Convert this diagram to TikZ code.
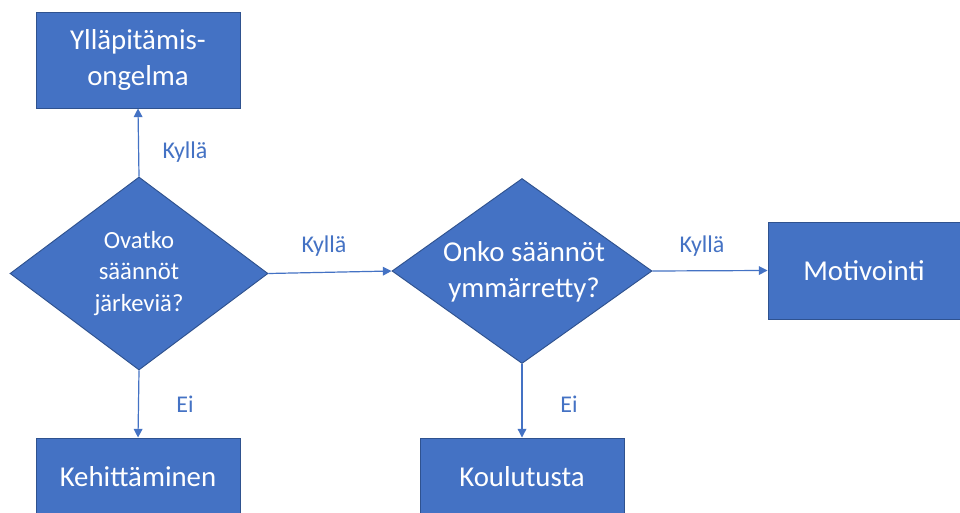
\documentclass[tikz,border=0pt]{standalone}
\usepackage{fontspec}
\setmainfont{Carlito}
\usetikzlibrary{shapes.geometric,arrows.meta}
\definecolor{ofblue}{HTML}{4472C4}
\definecolor{ofedge}{HTML}{2F528F}
\begin{document}
\begin{tikzpicture}[x=0.75pt,y=-0.75pt,
  box/.style={draw=ofedge,line width=0.7pt,fill=ofblue,text=white,rectangle,
    inner sep=0pt,align=center,font=\fontsize{21.6}{27}\selectfont},
  decision/.style={draw=ofedge,line width=0.7pt,fill=ofblue,diamond,inner sep=0pt},
  dtext/.style={text=white,align=center,inner sep=0pt},
  flow/.style={draw=ofblue,line width=0.9pt,-{Triangle[length=6.5pt,width=6.5pt]}},
  lbl/.style={text=ofblue,font=\fontsize{18}{22}\selectfont,inner sep=0pt}]
\path[clip] (0,0) rectangle (960,513);
\fill[white] (0,0) rectangle (960,513);
\node[box,minimum width=153pt,minimum height=72pt] (yp) at (138,60) {Ylläpitämis-\\ongelma};
\node[box,minimum width=153pt,minimum height=58.5pt] (keh) at (138,477) {Kehittäminen};
\node[box,minimum width=153pt,minimum height=58.5pt] (kou) at (522,477) {Koulutusta};
\node[box,minimum width=144pt,minimum height=72.75pt] (mot) at (864,270.5) {Motivointi};
\node[decision,minimum width=193.5pt,minimum height=144.75pt] (d1) at (139,273.5) {};
\node[dtext,font=\fontsize{18.5}{23.5}\selectfont] (t1) at (d1.center) {Ovatko\\säännöt\\järkeviä?};
\node[decision,minimum width=195pt,minimum height=138.75pt] (d2) at (522,271) {};
\node[dtext,font=\fontsize{21.6}{27}\selectfont] (t2) at (524,272) {Onko säännöt\\ymmärretty?};
\draw[flow] (d1.north) -- (yp.south);
\draw[flow] (d1.south) -- (keh.north);
\draw[flow] (d1.east) -- (d2.west);
\draw[flow] (d2.east) -- (mot.west);
\draw[flow] (d2.south) -- (kou.north);
\node[lbl] (l1) at (185,152) {Kyllä};
\node[lbl] (l2) at (324,246) {Kyllä};
\node[lbl] (l3) at (702,246) {Kyllä};
\node[lbl] (l4) at (185,404) {Ei};
\node[lbl] (l5) at (569,404) {Ei};
\end{tikzpicture}
\end{document}
